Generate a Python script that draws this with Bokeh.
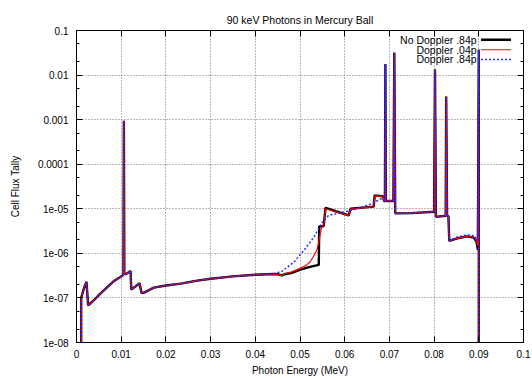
from bokeh.plotting import figure
from bokeh.models import Range1d, FixedTicker, LogAxis, LinearAxis, Label, CustomJSTickFormatter
from bokeh.embed import file_html
from bokeh.resources import INLINE

TITLE = "90 keV Photons in Mercury Ball"
X_LABEL = "Photon Energy (MeV)"
Y_LABEL = "Cell Flux Tally"
series_names = ["No Doppler .84p", "Doppler .04p", "Doppler .84p"]

x_ticks = [0, 0.01, 0.02, 0.03, 0.04, 0.05, 0.06, 0.07, 0.08, 0.09, 0.1]
x_tick_labels = ["0", "0.01", "0.02", "0.03", "0.04", "0.05", "0.06", "0.07", "0.08", "0.09", "0.1"]
y_ticks = [1e-8, 1e-7, 1e-6, 1e-5, 1e-4, 1e-3, 1e-2, 1e-1]
y_tick_labels = ["1e-08", "1e-07", "1e-06", "1e-05", "0.0001", "0.001", "0.01", "0.1"]

# shared low-energy part (all three tallies coincide)
low_energy = [0.00105, 0.00105, 0.0015, 0.0019, 0.00224, 0.0026, 0.0030, 0.0039, 0.0054,
              0.0069, 0.0084, 0.0098, 0.0103, 0.0105, 0.0106, 0.0107, 0.0110, 0.0121,
              0.01225, 0.0130, 0.0141, 0.01455, 0.0150, 0.0173, 0.0200, 0.0233, 0.0270,
              0.0300, 0.0350, 0.0400, 0.0440]
low_flux = [1e-9, 1.0e-7, 1.45e-7, 1.9e-7, 2.3e-7, 6.8e-8, 7.4e-8, 8.9e-8, 1.26e-7,
            1.75e-7, 2.4e-7, 2.95e-7, 3.2e-7, 3.3e-7, 9.5e-4, 3.5e-7, 3.4e-7, 4.0e-7,
            1.55e-7, 1.75e-7, 2.13e-7, 1.29e-7, 1.3e-7, 1.7e-7, 1.9e-7, 2.1e-7, 2.45e-7,
            2.7e-7, 3.05e-7, 3.3e-7, 3.45e-7]

# middle part, differs between tallies
mid_energy_nd = [0.0450, 0.0460, 0.0465, 0.0480, 0.0501, 0.0520, 0.0542, 0.0543, 0.0553,
                 0.0557, 0.0580, 0.0609, 0.0613, 0.0640, 0.0665, 0.0667, 0.0686]
mid_flux_nd = [3.4e-7, 3.2e-7, 3.4e-7, 3.6e-7, 4.3e-7, 4.9e-7, 5.5e-7, 4.0e-6, 4.1e-6,
               1.05e-5, 8.8e-6, 7.1e-6, 1.0e-5, 1.06e-5, 1.12e-5, 2.0e-5, 1.9e-5]

mid_energy_d04 = [0.0450, 0.0460, 0.0465, 0.0480, 0.0500, 0.0515, 0.0523, 0.0530, 0.0538,
                  0.0543, 0.0546, 0.0549, 0.0553, 0.0557, 0.0580, 0.0609, 0.0613, 0.0640,
                  0.0665, 0.0668, 0.0686]
mid_flux_d04 = [3.4e-7, 3.2e-7, 3.5e-7, 3.8e-7, 4.6e-7, 5.5e-7, 6.5e-7, 8.5e-7, 1.2e-6,
                2.0e-6, 3.0e-6, 4.0e-6, 4.3e-6, 1.0e-5, 8.6e-6, 7.1e-6, 9.8e-6, 1.05e-5,
                1.12e-5, 1.95e-5, 1.85e-5]

mid_energy_d84 = [0.0450, 0.0460, 0.0486, 0.0509, 0.0531, 0.0550, 0.0564, 0.0598, 0.0620,
                  0.0640, 0.0660, 0.0680, 0.0686]
mid_flux_d84 = [3.7e-7, 4.0e-7, 6.3e-7, 1.17e-6, 2.3e-6, 5.0e-6, 7.1e-6, 8.5e-6, 9.6e-6,
                1.1e-5, 1.3e-5, 1.65e-5, 1.7e-5]

# shared K-fluorescence region
high_energy = [0.0688, 0.0690, 0.0691, 0.0692, 0.0709, 0.0711, 0.0713, 0.0750, 0.0800,
               0.0802, 0.0804, 0.0826, 0.0827, 0.0829, 0.0832, 0.0834]
high_flux = [1.5e-5, 1.5e-5, 0.0178, 1.5e-5, 1.5e-5, 0.0316, 7.9e-6, 8.0e-6, 8.6e-6,
             0.0134, 6.6e-6, 7.0e-6, 0.0033, 7.0e-6, 6.8e-6, 1.9e-6]

# tail up to the 90 keV source line
tail_energy_nd = [0.0850, 0.0874, 0.0889, 0.0895, 0.0898, 0.0900, 0.0900]
tail_flux_nd = [2.15e-6, 2.4e-6, 2.25e-6, 1.8e-6, 1.2e-6, 0.037, 1e-9]
tail_energy_d04 = [0.0850, 0.0874, 0.0889, 0.0895, 0.0898, 0.0900, 0.0900]
tail_flux_d04 = [2.15e-6, 2.4e-6, 2.3e-6, 1.9e-6, 1.5e-6, 0.037, 1e-9]
tail_energy_d84 = [0.0850, 0.0874, 0.0889, 0.0897, 0.0900, 0.0900]
tail_flux_d84 = [2.3e-6, 2.6e-6, 2.5e-6, 2.0e-6, 0.037, 1e-9]

series = [
    (low_energy + mid_energy_nd + high_energy + tail_energy_nd,
     low_flux + mid_flux_nd + high_flux + tail_flux_nd),
    (low_energy + mid_energy_d04 + high_energy + tail_energy_d04,
     low_flux + mid_flux_d04 + high_flux + tail_flux_d04),
    (low_energy + mid_energy_d84 + high_energy + tail_energy_d84,
     low_flux + mid_flux_d84 + high_flux + tail_flux_d84),
]
styles = [
    dict(line_color="black", line_width=2.4),
    dict(line_color="#ff0000", line_width=1.2),
    dict(line_color="#2a2aff", line_width=1.5, line_dash="2 2"),
]

FONT = "Liberation Sans"
FS = "10px"
FS_BIG = "10.5px"

p = figure(width=532, height=379, x_range=Range1d(0, 0.1), y_range=Range1d(1e-8, 0.1),
           y_axis_type="log", output_backend="svg", toolbar_location=None,
           min_border_left=76, min_border_right=9, min_border_top=30, min_border_bottom=37,
           title=TITLE)
p.background_fill_color = "white"
p.border_fill_color = "white"
p.outline_line_color = "black"
p.outline_line_width = 1

p.title.align = "center"
p.title.text_font = FONT
p.title.text_font_size = FS_BIG
p.title.text_font_style = "normal"
p.title.text_color = "black"

y_minor = [t * m for t in y_ticks[:-1] for m in (2, 5)]
xt = FixedTicker(ticks=x_ticks)
yt = FixedTicker(ticks=y_ticks, minor_ticks=y_minor)

xfmt = CustomJSTickFormatter(args=dict(vals=x_ticks, labs=x_tick_labels), code="""
for (let i = 0; i < vals.length; i++) { if (Math.abs(tick - vals[i]) < 1e-9) return labs[i]; }
return '';""")
yfmt = CustomJSTickFormatter(args=dict(vals=y_ticks, labs=y_tick_labels), code="""
for (let i = 0; i < vals.length; i++) { if (Math.abs(Math.log10(tick) - Math.log10(vals[i])) < 1e-6) return labs[i]; }
return '';""")
empty_fmt = CustomJSTickFormatter(code="return '';")


def style_axis(ax, fs=FS):
    ax.axis_line_color = "black"
    ax.major_tick_in = 6
    ax.major_tick_out = 0
    ax.minor_tick_in = 3
    ax.minor_tick_out = 0
    ax.major_tick_line_color = "black"
    ax.minor_tick_line_color = "black"
    ax.major_label_text_font = FONT
    ax.major_label_text_font_size = fs
    ax.major_label_text_color = "black"
    ax.axis_label_text_font = FONT
    ax.axis_label_text_font_size = FS
    ax.axis_label_text_font_style = "normal"
    ax.axis_label_text_color = "black"


xa = p.xaxis[0]
xa.ticker = xt
xa.formatter = xfmt
xa.axis_label = X_LABEL
style_axis(xa)
xa.major_label_standoff = 7
xa.axis_label_standoff = 4

ya = p.yaxis[0]
ya.ticker = yt
ya.formatter = yfmt
ya.axis_label = Y_LABEL
style_axis(ya)
ya.major_label_standoff = 8
ya.axis_label_standoff = 14

# mirrored tick marks on top and right (no labels); top axis also spaces the title
top_ax = LinearAxis(ticker=FixedTicker(ticks=x_ticks), formatter=empty_fmt, major_label_standoff=6)
style_axis(top_ax, fs="1px")
p.add_layout(top_ax, "above")
right_ax = LogAxis(ticker=FixedTicker(ticks=y_ticks, minor_ticks=y_minor), formatter=empty_fmt,
                   major_label_standoff=0)
style_axis(right_ax, fs="1px")
p.add_layout(right_ax, "right")

p.xgrid.ticker = xt
p.ygrid.ticker = yt
for g in (p.xgrid[0], p.ygrid[0]):
    g.grid_line_color = "#707070"
    g.grid_line_dash = "1 2"
    g.grid_line_width = 1

for (ex, fx), st in zip(series, styles):
    p.line(ex, fx, **st)

# legend (gnuplot style: text right-aligned, sample to its right)
leg_text_x = 0.0895
leg_line_x = [0.0905, 0.0972]
leg_rows = [0.062, 0.037, 0.0224]
for name, st, yrow in zip(series_names, styles, leg_rows):
    p.add_layout(Label(x=leg_text_x, y=yrow, text=name, text_align="right",
                       text_baseline="middle", text_font=FONT, text_font_size=FS_BIG,
                       text_color="black"))
    p.line(leg_line_x, [yrow, yrow], **st)

open("out.html", "w").write(file_html(p, INLINE))
